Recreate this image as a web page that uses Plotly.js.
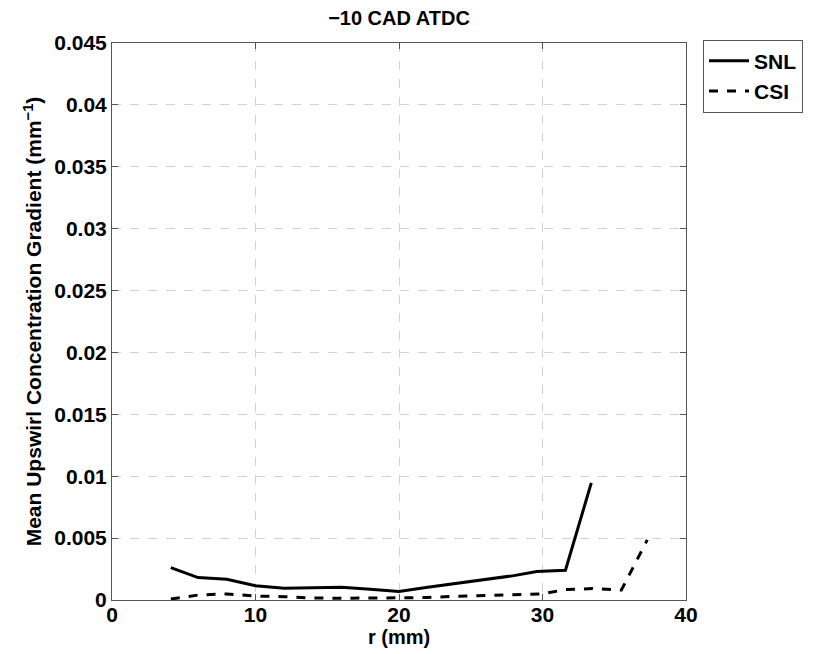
<!DOCTYPE html>
<html>
<head>
<meta charset="utf-8">
<script src="https://cdn.plot.ly/plotly-3.0.1.min.js"></script>
<style>body{margin:0;background:#fff}</style>
</head>
<body>
<div id="chart" style="width:821px;height:654px"></div>
<script>
const snlR = [4.1, 6, 8, 10, 12, 14, 16, 18, 20, 22, 24, 26, 28, 29.6, 31.6, 33.4];
const snlG = [0.00262, 0.00181, 0.00168, 0.00116, 0.00095, 0.00100, 0.00103, 0.00086, 0.00068, 0.00103, 0.00135, 0.00168, 0.00197, 0.00230, 0.00240, 0.00946];
const csiR = [4.1, 6, 8, 10, 12, 14, 16, 18, 20, 22, 24, 26, 28, 30, 31.6, 33.5, 35.5, 37.3];
const csiG = [0.00008, 0.00040, 0.00049, 0.00032, 0.00027, 0.00016, 0.00014, 0.00014, 0.00014, 0.00020, 0.00030, 0.00038, 0.00043, 0.00050, 0.00084, 0.00092, 0.00081, 0.00486];
const xTicks = [0, 10, 20, 30, 40];
const yTicks = [0, 0.005, 0.01, 0.015, 0.02, 0.025, 0.03, 0.035, 0.04, 0.045];
const yTickText = ['0', '0.005', '0.01', '0.015', '0.02', '0.025', '0.03', '0.035', '0.04', '0.045'];

const font = {family: 'Liberation Sans, Arial, sans-serif', color: '#000'};
const traces = [
  {x: snlR, y: snlG, name: '<b>SNL</b>', mode: 'lines', line: {color: '#000', width: 3}},
  {x: csiR, y: csiG, name: '<b>CSI</b>', mode: 'lines', line: {color: '#000', width: 3, dash: 'dash'}}
];
const axisCommon = {
  showline: true, mirror: 'ticks', linecolor: '#555', linewidth: 1,
  ticks: 'inside', ticklen: 6, tickcolor: '#555',
  showgrid: true, gridcolor: '#d0d0d0', griddash: 'dash', gridwidth: 1,
  zeroline: false, tickfont: Object.assign({}, font, {size: 21, weight: 'bold'})
};
const layout = {
  width: 821, height: 654,
  margin: {l: 112, r: 135, t: 43, b: 54},
  paper_bgcolor: '#fff', plot_bgcolor: '#fff',
  title: {text: '<b>−10 CAD ATDC</b>', font: Object.assign({}, font, {size: 20}), x: 0.486, xanchor: 'center', y: 0.973, yanchor: 'middle'},
  xaxis: Object.assign({}, axisCommon, {
    range: [0, 40], tickvals: xTicks, ticktext: xTicks.map(String), ticklabelstandoff: -4,
    title: {text: '<b>r (mm)</b>', font: Object.assign({}, font, {size: 20}), standoff: 0}
  }),
  yaxis: Object.assign({}, axisCommon, {
    range: [0, 0.045], tickvals: yTicks, ticktext: yTickText,
    title: {text: '<b>Mean Upswirl Concentration Gradient (mm<sup>−1</sup>)</b>', font: Object.assign({}, font, {size: 21}), standoff: 6}
  }),
  showlegend: true,
  legend: {
    x: 1.0296, xanchor: 'left', y: 1.006, yanchor: 'top',
    bordercolor: '#555', borderwidth: 1, bgcolor: '#fff',
    font: Object.assign({}, font, {size: 21}), tracegroupgap: 0, itemwidth: 40
  }
};
Plotly.newPlot('chart', traces, layout, {displayModeBar: false, staticPlot: true});
</script>
</body>
</html>
